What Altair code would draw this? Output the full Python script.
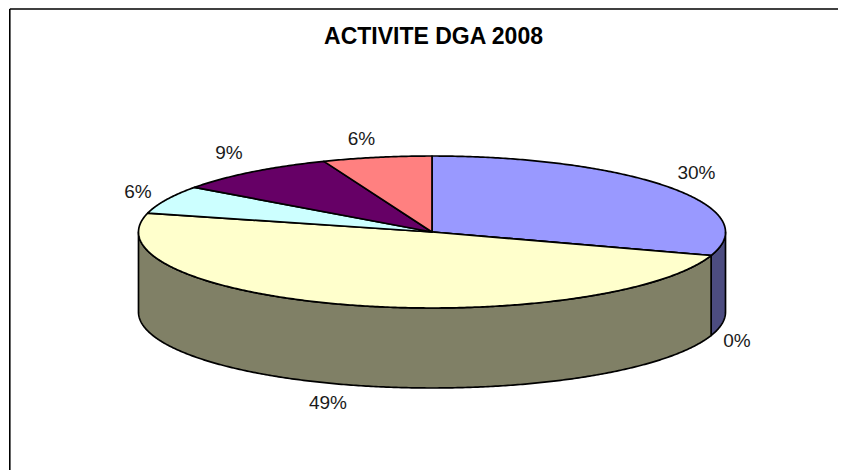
import math
import altair as alt

# --- chart values -------------------------------------------------------
TITLE = "ACTIVITE DGA 2008"
SHARES = [30, 0, 49, 6, 9, 6]
LABELS = ["30%", "0%", "49%", "6%", "9%", "6%"]
TOP_COLORS = ["#9999FF", "#993366", "#FFFFCC", "#CCFFFF", "#660066", "#FF8080"]
WALL_COLORS = ["#4C4C80", "#4D1A33", "#808066", "#668080", "#330033", "#804040"]

# --- layout (pixels inside the chart) ------------------------------------
W, H = 830, 462
CX, CY, RX, RY, DEPTH = 424, 224, 293.5, 76, 80
LABEL_X = [688.5, 729, 320, 130, 221, 353.5]
LABEL_Y = [165, 333, 395, 184, 145, 131]
FONT = "Liberation Sans"


def pt(deg, dy=0):
    t = math.radians(deg)
    return [CX + RX * math.sin(t), CY - RY * math.cos(t) + dy]


def arc(a, b, dy=0):
    n = max(1, int(abs(b - a) * 2))
    return [pt(a + (b - a) * i / n, dy) for i in range(n + 1)]


def feature(ring, color):
    ring = ring + [ring[0]]
    return {
        "type": "Feature",
        "properties": {"color": color},
        "geometry": {"type": "Polygon", "coordinates": [ring]},
    }


walls, tops = [], []
total = sum(SHARES)
cum = 0
for share, top, wall in zip(SHARES, TOP_COLORS, WALL_COLORS):
    a = cum / total * 360
    cum += share
    b = cum / total * 360
    lo, hi = max(a, 90), min(b, 270)
    if hi > lo:
        walls.append(feature(arc(lo, hi) + arc(hi, lo, DEPTH), wall))
    tops.append(feature([[CX, CY]] + arc(a, b), top))

pie = (
    alt.Chart(alt.Data(values=walls + tops))
    .mark_geoshape(stroke="black", strokeWidth=1.7, strokeJoin="round")
    .encode(fill=alt.Fill("properties.color:N", scale=None, legend=None))
    .project(type="identity", scale=1, translate=[0, 0])
)

label_rows = [{"t": t, "x": x, "y": y} for t, x, y in zip(LABELS, LABEL_X, LABEL_Y)]
labels = (
    alt.Chart(alt.Data(values=label_rows))
    .mark_text(font=FONT, fontSize=19, color="#1a1a1a", align="center", baseline="middle")
    .encode(
        x=alt.X("x:Q", scale=alt.Scale(domain=[0, W], range=[0, W]), axis=None),
        y=alt.Y("y:Q", scale=alt.Scale(domain=[0, H], range=[0, H]), axis=None),
        text="t:N",
    )
)

frame_left = alt.Chart(alt.Data(values=[{"a": 1}])).mark_rule(color="black", strokeWidth=1.6).encode(
    x=alt.value(1.8), y=alt.value(1), y2=alt.value(H)
)
frame_top = alt.Chart(alt.Data(values=[{"a": 1}])).mark_rule(color="black", strokeWidth=1.6).encode(
    y=alt.value(1), x=alt.value(1.8), x2=alt.value(W)
)

chart = (
    alt.layer(pie, labels, frame_left, frame_top)
    .resolve_scale(x="independent", y="independent")
    .properties(
        width=W,
        height=H,
        padding=0,
        autosize=alt.AutoSizeParams(type="none"),
        title=alt.TitleParams(
            TITLE, anchor="middle", offset=-52, dx=10.5, font=FONT, fontSize=23,
            fontWeight="bold", color="black", baseline="middle",
        ),
    )
    .configure_view(stroke=None)
)

chart.save("out.html", embed_options={"renderer": "svg", "actions": False})
